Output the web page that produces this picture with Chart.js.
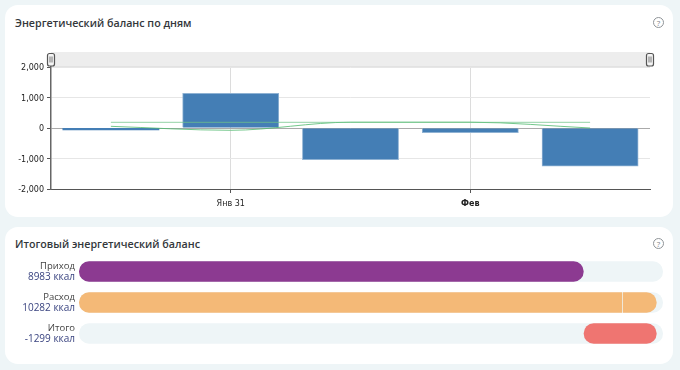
<!DOCTYPE html>
<html>
<head>
    <meta charset="utf-8">
    <title>Энергетический баланс</title>
    <script src="https://cdn.jsdelivr.net/npm/chart.js"></script>
    <style>
        html, body { margin: 0; padding: 0; width: 680px; height: 370px; overflow: hidden; background: #eef5f7; font-family: "Open Sans", sans-serif; }
        .card { position: absolute; left: 5px; width: 668px; background: #fff; border-radius: 13px; }
        .card h3 { position: absolute; left: 10px; top: 11px; margin: 0; font-size: 10.7px; line-height: 14px; font-weight: 600; color: #33373b; white-space: nowrap; }
        .help { position: absolute; right: 9px; top: 12px; width: 9px; height: 9px; border: 1px solid #8f9498; border-radius: 50%; font-size: 8px; line-height: 9px; text-align: center; color: #7c8185; }
        canvas { position: absolute; left: 0; }
    </style>
</head>
<body>
    <div class="card" style="top:5px;height:212px"><h3>Энергетический баланс по дням</h3><div class="help">?</div></div>
    <div class="card" style="top:227px;height:137px"><h3 style="top:10px">Итоговый энергетический баланс</h3><div class="help" style="top:11px">?</div></div>
    <canvas id="dailyChart" width="680" height="170" style="top:45px"></canvas>
    <canvas id="totalChart" width="680" height="100" style="top:256px"></canvas>

    <script>
        // daily chart
        const dayLabels = ['', 'Янв 31', '', 'Фев', ''];
        const boldLabels = ['Фев'];
        const balanceValues = [-55, 1130, -1035, -150, -1245];
        const trendFlat = [187, 187, 187, 187, 187];
        const trendCurve = [55, -75, 190, 190, 0];
        const yTicks = [-2000, -1000, 0, 1000, 2000];

        // totals chart
        const totalNames = ['Приход', 'Расход', 'Итого'];
        const totalKcal = ['8983 ккал', '10282 ккал', '-1299 ккал'];
        const trackMax = 10395;
        const mainBars = [[0, 8983], [0, 9668], [8983, 10282]];
        const mainColors = ['#8c3a91', '#f4b977', '#ef7571'];
        const restBars = [null, [9682, 10282], null];

        const sliderPlugin = {
            id: 'slider',
            beforeDraw(chart) {
                const { ctx, chartArea: a } = chart;
                ctx.save();
                ctx.fillStyle = '#ededed';
                ctx.fillRect(a.left, a.top - 15, a.right - a.left, 14);
                ctx.fillStyle = '#e2e2e2';
                ctx.fillRect(a.left, a.top - 1, a.right - a.left, 1);
                ctx.restore();
            },
            afterDraw(chart) {
                const { ctx, chartArea: a } = chart;
                ctx.save();
                [a.left, a.right].forEach(x => {
                    ctx.fillStyle = '#f4f4f4';
                    ctx.strokeStyle = '#555';
                    ctx.lineWidth = 1.2;
                    ctx.beginPath();
                    ctx.roundRect(x - 3.5, a.top - 13.5, 7, 12.5, 2);
                    ctx.fill();
                    ctx.stroke();
                    ctx.lineWidth = 1;
                    ctx.strokeStyle = '#777';
                    ctx.beginPath();
                    ctx.moveTo(x - 1, a.top - 10.5); ctx.lineTo(x - 1, a.top - 4.5);
                    ctx.moveTo(x + 1, a.top - 10.5); ctx.lineTo(x + 1, a.top - 4.5);
                    ctx.stroke();
                });
                ctx.restore();
            }
        };

        new Chart(document.getElementById('dailyChart').getContext('2d'), {
            type: 'bar',
            data: {
                labels: dayLabels,
                datasets: [
                    { type: 'line', data: trendFlat, borderColor: 'rgba(110,195,135,0.6)', borderWidth: 1.2, pointRadius: 0, tension: 0, order: 1 },
                    { type: 'line', data: trendCurve, borderColor: 'rgba(80,185,110,0.8)', borderWidth: 1, pointRadius: 0, cubicInterpolationMode: 'monotone', order: 2 },
                    { data: balanceValues, backgroundColor: '#447eb5', borderColor: '#8fb2d3', barPercentage: 0.8, categoryPercentage: 1, order: 3,
                      inflateAmount: 0.5, borderWidth: c => Math.abs(c.raw) < 100 ? 0 : 1 }
                ]
            },
            options: {
                responsive: false,
                animation: false,
                layout: { padding: { top: 22, right: 30, left: 0, bottom: 0 } },
                plugins: { legend: { display: false }, tooltip: { enabled: false } },
                scales: {
                    x: {
                        afterFit: s => { s.height = 26; },
                        grid: {
                            offset: false,
                            color: c => dayLabels[c.index] ? '#dcdcdc' : 'transparent',
                            tickColor: c => dayLabels[c.index] ? '#555' : 'transparent',
                            tickLength: 4
                        },
                        border: { color: '#555', width: 1 },
                        ticks: {
                            autoSkip: false, maxRotation: 0, color: '#222', padding: 6,
                            font: c => ({
                                family: 'DejaVu Sans', size: 8,
                                weight: boldLabels.includes(dayLabels[c.index]) ? 'bold' : 'normal'
                            })
                        }
                    },
                    y: {
                        min: -2000, max: 2000,
                        afterFit: s => { s.width = 51; },
                        afterBuildTicks: s => { s.ticks = yTicks.map(value => ({ value })); },
                        grid: {
                            color: c => c.tick && c.tick.value === 0 ? '#aaaaaa' : '#e6e6e6',
                            tickColor: '#555', tickLength: 4
                        },
                        border: { color: '#666', width: 1.5 },
                        ticks: { color: '#222', padding: 3, labelOffset: 1, font: { family: 'DejaVu Sans', size: 8 }, callback: v => v.toLocaleString('en-US') }
                    }
                }
            },
            plugins: [sliderPlugin]
        });

        const rowLabelsPlugin = {
            id: 'rowLabels',
            afterDraw(chart) {
                const { ctx, chartArea: a, scales } = chart;
                ctx.save();
                ctx.textAlign = 'right';
                ctx.textBaseline = 'middle';
                totalNames.forEach((name, i) => {
                    const y = scales.y.getPixelForTick(i);
                    ctx.font = '400 9.5px "Open Sans"';
                    ctx.fillStyle = '#444';
                    ctx.fillText(name, a.left - 4, y - 5);
                    ctx.font = '500 10px "Open Sans"';
                    ctx.fillStyle = '#3a4480';
                    ctx.fillText(totalKcal[i], a.left - 4, y + 5.5);
                });
                ctx.restore();
            }
        };

        const pill = { topLeft: 10, bottomLeft: 10, topRight: 10, bottomRight: 10 };
        new Chart(document.getElementById('totalChart').getContext('2d'), {
            type: 'bar',
            data: {
                labels: totalNames,
                datasets: [
                    { data: totalNames.map(() => [0, trackMax]), backgroundColor: '#eef5f7', borderRadius: pill, borderSkipped: false, order: 3, barPercentage: 0.66, categoryPercentage: 1, grouped: false },
                    { data: mainBars, backgroundColor: mainColors, order: 2, barPercentage: 0.66, categoryPercentage: 1, grouped: false, borderSkipped: false,
                      borderRadius: c => c.dataIndex === 1 ? { topLeft: 10, bottomLeft: 10, topRight: 0, bottomRight: 0 } : pill },
                    { data: restBars, backgroundColor: '#f4b977', order: 1, barPercentage: 0.66, categoryPercentage: 1, grouped: false, borderSkipped: false,
                      borderRadius: { topLeft: 0, bottomLeft: 0, topRight: 10, bottomRight: 10 } }
                ]
            },
            options: {
                indexAxis: 'y',
                responsive: false,
                animation: false,
                layout: { padding: { left: 79, right: 17, top: 0, bottom: 7 } },
                plugins: { legend: { display: false }, tooltip: { enabled: false } },
                scales: {
                    x: { display: false, min: 0, max: trackMax },
                    y: { display: false }
                }
            },
            plugins: [rowLabelsPlugin]
        });
    </script>
</body>
</html>
